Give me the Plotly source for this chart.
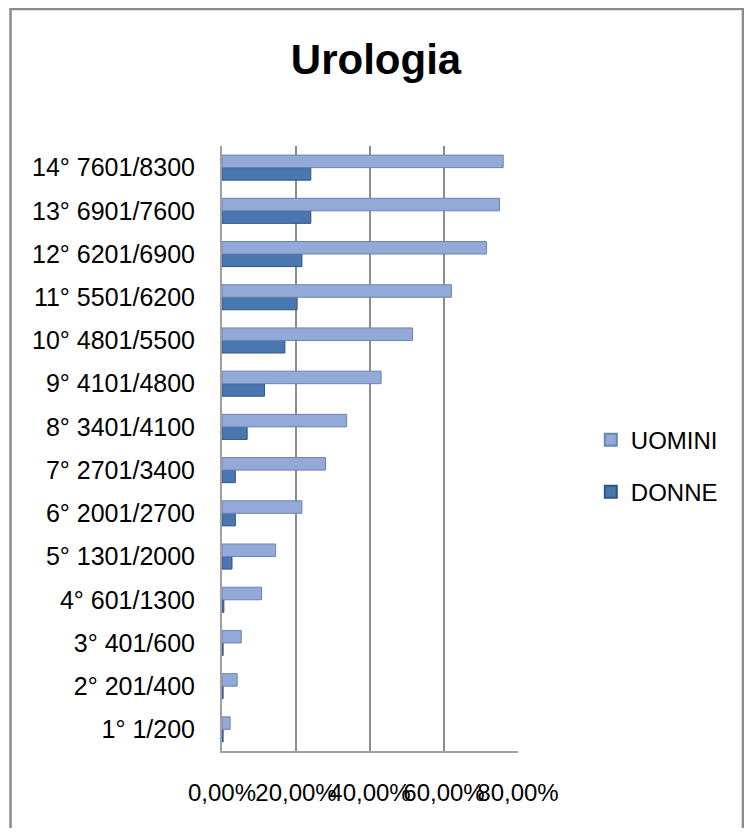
import plotly.graph_objects as go

categories = ["1° 1/200", "2° 201/400", "3° 401/600", "4° 601/1300", "5° 1301/2000",
              "6° 2001/2700", "7° 2701/3400", "8° 3401/4100", "9° 4101/4800",
              "10° 4801/5500", "11° 5501/6200", "12° 6201/6900", "13° 6901/7600",
              "14° 7601/8300"]
uomini = [0.022, 0.041, 0.052, 0.107, 0.145, 0.216, 0.28, 0.337, 0.43, 0.515,
          0.62, 0.715, 0.75, 0.76]
donne = [0.003, 0.003, 0.003, 0.005, 0.027, 0.036, 0.036, 0.068, 0.115, 0.17,
         0.203, 0.216, 0.24, 0.24]
xticks = [0, 0.2, 0.4, 0.6, 0.8]

fig = go.Figure()
fig.add_trace(go.Bar(y=categories, x=donne, name="DONNE", orientation="h",
                     legendgroup="d", legendrank=2,
                     marker=dict(color="#4A77AF", line=dict(color="#2E5584", width=1))))
fig.add_trace(go.Bar(y=categories, x=uomini, name="UOMINI", orientation="h",
                     legendgroup="u", legendrank=1,
                     marker=dict(color="#93AAD8", line=dict(color="#6A84B4", width=1))))

font_family = "Liberation Sans, Arial, sans-serif"
fig.update_layout(
    width=736, height=820,
    margin=dict(l=214, r=226, t=138, b=77, autoexpand=False),
    paper_bgcolor="white", plot_bgcolor="white",
    separators=",.",
    barmode="group", bargap=0.42, bargroupgap=0.0,
    title=dict(text="<b>Urologia</b>", x=0.5, xanchor="center", y=0.937, yanchor="middle",
               font=dict(family=font_family, size=42, color="black")),
    font=dict(family=font_family, size=24, color="black"),
    legend=dict(traceorder="grouped", x=1.246, xanchor="left", y=0.471, yanchor="middle",
                font=dict(size=24), itemsizing="constant", tracegroupgap=18,
                bgcolor="rgba(0,0,0,0)"),
    xaxis=dict(range=[0, 0.8], tickvals=xticks, tickformat=".2%", tickangle=0,
               automargin=False,
               showgrid=True, gridcolor="#8C8C8C", gridwidth=2,
               showline=True, linecolor="#A0A0A0", linewidth=2,
               zeroline=False, ticks="", ticklabelstandoff=19,
               tickfont=dict(size=24)),
    yaxis=dict(categoryorder="array", categoryarray=categories, automargin=False,
               showline=True, linecolor="#A0A0A0", linewidth=2,
               showgrid=False, ticks="", ticklabelstandoff=20,
               tickfont=dict(size=25)),
    shapes=[dict(type="rect", xref="paper", yref="paper",
                 x0=-0.7145, x1=1.760, y0=-0.144, y1=1.2264,
                 line=dict(color="#8C8C8C", width=2.5))],
)

fig.write_html("out.html")
